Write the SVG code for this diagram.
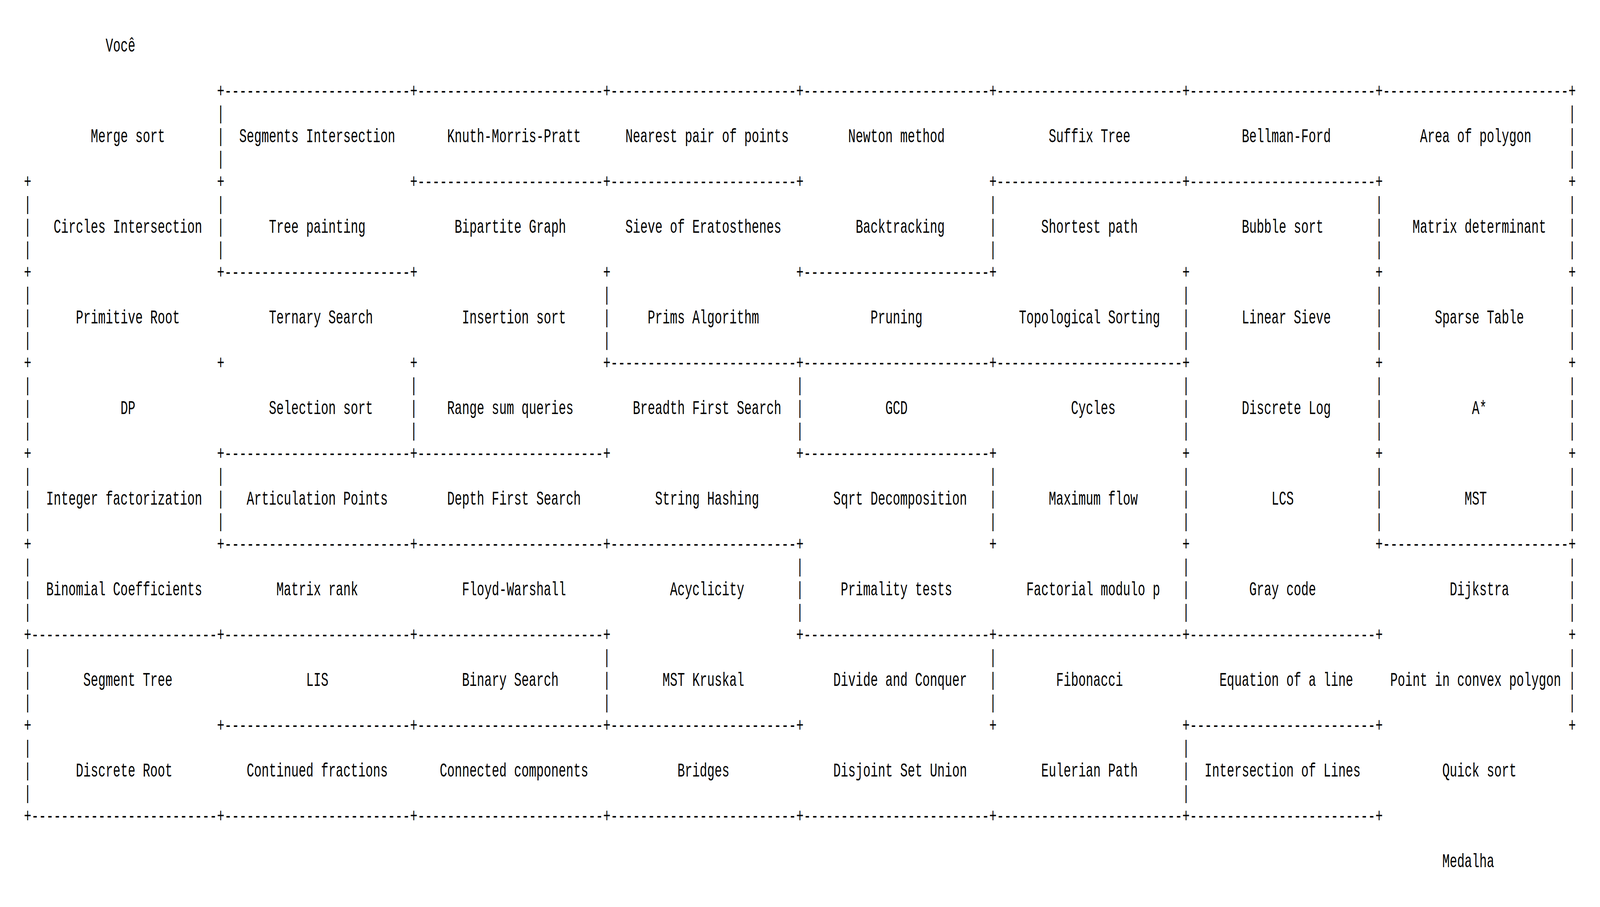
<svg xmlns="http://www.w3.org/2000/svg" width="6464" height="2322" viewBox="0 0 6464 2322" preserveAspectRatio="none">
<style>
svg { width: 100vw; height: 100vh; }
text { font-family: "Liberation Mono", "Courier New", monospace; font-size: 50px; fill: #000; }
</style>
<defs>
<text id="dash" x="0" y="0">-------------------------</text>
<text id="bar"><tspan x="0" y="0">|</tspan><tspan x="0" y="58">|</tspan><tspan x="0" y="116">|</tspan></text>
</defs>
<rect x="0" y="0" width="6464" height="2322" fill="#fff"/>
<g id="connectors">
<g id="corners">
<text x="876.7 1656.7 2436.7 3216.7 3996.7 4776.7 5556.7 6336.7" y="248">++++++++</text>
<text x="96.7 876.7 1656.7 2436.7 3216.7 3996.7 4776.7 5556.7 6336.7" y="480">+++++++++</text>
<text x="96.7 876.7 1656.7 2436.7 3216.7 3996.7 4776.7 5556.7 6336.7" y="712">+++++++++</text>
<text x="96.7 876.7 1656.7 2436.7 3216.7 3996.7 4776.7 5556.7 6336.7" y="944">+++++++++</text>
<text x="96.7 876.7 1656.7 2436.7 3216.7 3996.7 4776.7 5556.7 6336.7" y="1176">+++++++++</text>
<text x="96.7 876.7 1656.7 2436.7 3216.7 3996.7 4776.7 5556.7 6336.7" y="1408">+++++++++</text>
<text x="96.7 876.7 1656.7 2436.7 3216.7 3996.7 4776.7 5556.7 6336.7" y="1640">+++++++++</text>
<text x="96.7 876.7 1656.7 2436.7 3216.7 3996.7 4776.7 5556.7 6336.7" y="1872">+++++++++</text>
<text x="96.7 876.7 1656.7 2436.7 3216.7 3996.7 4776.7 5556.7" y="2104">++++++++</text>
</g>
<g id="horizontal-walls">
<use href="#dash" x="906.7" y="248"/><use href="#dash" x="1686.7" y="248"/><use href="#dash" x="2466.7" y="248"/><use href="#dash" x="3246.7" y="248"/><use href="#dash" x="4026.7" y="248"/><use href="#dash" x="4806.7" y="248"/><use href="#dash" x="5586.7" y="248"/>
<use href="#dash" x="1686.7" y="480"/><use href="#dash" x="2466.7" y="480"/><use href="#dash" x="4026.7" y="480"/><use href="#dash" x="4806.7" y="480"/>
<use href="#dash" x="906.7" y="712"/><use href="#dash" x="3246.7" y="712"/>
<use href="#dash" x="2466.7" y="944"/><use href="#dash" x="3246.7" y="944"/><use href="#dash" x="4026.7" y="944"/>
<use href="#dash" x="906.7" y="1176"/><use href="#dash" x="1686.7" y="1176"/><use href="#dash" x="3246.7" y="1176"/>
<use href="#dash" x="906.7" y="1408"/><use href="#dash" x="1686.7" y="1408"/><use href="#dash" x="2466.7" y="1408"/><use href="#dash" x="5586.7" y="1408"/>
<use href="#dash" x="126.7" y="1640"/><use href="#dash" x="906.7" y="1640"/><use href="#dash" x="1686.7" y="1640"/><use href="#dash" x="3246.7" y="1640"/><use href="#dash" x="4026.7" y="1640"/><use href="#dash" x="4806.7" y="1640"/>
<use href="#dash" x="906.7" y="1872"/><use href="#dash" x="1686.7" y="1872"/><use href="#dash" x="2466.7" y="1872"/><use href="#dash" x="4806.7" y="1872"/>
<use href="#dash" x="126.7" y="2104"/><use href="#dash" x="906.7" y="2104"/><use href="#dash" x="1686.7" y="2104"/><use href="#dash" x="2466.7" y="2104"/><use href="#dash" x="3246.7" y="2104"/><use href="#dash" x="4026.7" y="2104"/><use href="#dash" x="4806.7" y="2104"/>
</g>
<g id="vertical-walls">
<use href="#bar" x="876.7" y="306"/><use href="#bar" x="6336.7" y="306"/>
<use href="#bar" x="96.7" y="538"/><use href="#bar" x="876.7" y="538"/><use href="#bar" x="3996.7" y="538"/><use href="#bar" x="5556.7" y="538"/><use href="#bar" x="6336.7" y="538"/>
<use href="#bar" x="96.7" y="770"/><use href="#bar" x="2436.7" y="770"/><use href="#bar" x="4776.7" y="770"/><use href="#bar" x="5556.7" y="770"/><use href="#bar" x="6336.7" y="770"/>
<use href="#bar" x="96.7" y="1002"/><use href="#bar" x="1656.7" y="1002"/><use href="#bar" x="3216.7" y="1002"/><use href="#bar" x="4776.7" y="1002"/><use href="#bar" x="5556.7" y="1002"/><use href="#bar" x="6336.7" y="1002"/>
<use href="#bar" x="96.7" y="1234"/><use href="#bar" x="876.7" y="1234"/><use href="#bar" x="3996.7" y="1234"/><use href="#bar" x="4776.7" y="1234"/><use href="#bar" x="5556.7" y="1234"/><use href="#bar" x="6336.7" y="1234"/>
<use href="#bar" x="96.7" y="1466"/><use href="#bar" x="3216.7" y="1466"/><use href="#bar" x="4776.7" y="1466"/><use href="#bar" x="6336.7" y="1466"/>
<use href="#bar" x="96.7" y="1698"/><use href="#bar" x="2436.7" y="1698"/><use href="#bar" x="3996.7" y="1698"/><use href="#bar" x="6336.7" y="1698"/>
<use href="#bar" x="96.7" y="1930"/><use href="#bar" x="4776.7" y="1930"/>
</g>
</g>
<g id="nodes">
<g id="start"><text x="426.7" y="132">Você</text></g>
<g id="finish"><text x="5826.7" y="2220">Medalha</text></g>
<g id="n-0-0"><text x="366.7" y="364">Merge sort</text></g>
<g id="n-0-1"><text x="966.7" y="364">Segments Intersection</text></g>
<g id="n-0-2"><text x="1806.7" y="364">Knuth-Morris-Pratt</text></g>
<g id="n-0-3"><text x="2526.7" y="364">Nearest pair of points</text></g>
<g id="n-0-4"><text x="3426.7" y="364">Newton method</text></g>
<g id="n-0-5"><text x="4236.7" y="364">Suffix Tree</text></g>
<g id="n-0-6"><text x="5016.7" y="364">Bellman-Ford</text></g>
<g id="n-0-7"><text x="5736.7" y="364">Area of polygon</text></g>
<g id="n-1-0"><text x="216.7" y="596">Circles Intersection</text></g>
<g id="n-1-1"><text x="1086.7" y="596">Tree painting</text></g>
<g id="n-1-2"><text x="1836.7" y="596">Bipartite Graph</text></g>
<g id="n-1-3"><text x="2526.7" y="596">Sieve of Eratosthenes</text></g>
<g id="n-1-4"><text x="3456.7" y="596">Backtracking</text></g>
<g id="n-1-5"><text x="4206.7" y="596">Shortest path</text></g>
<g id="n-1-6"><text x="5016.7" y="596">Bubble sort</text></g>
<g id="n-1-7"><text x="5706.7" y="596">Matrix determinant</text></g>
<g id="n-2-0"><text x="306.7" y="828">Primitive Root</text></g>
<g id="n-2-1"><text x="1086.7" y="828">Ternary Search</text></g>
<g id="n-2-2"><text x="1866.7" y="828">Insertion sort</text></g>
<g id="n-2-3"><text x="2616.7" y="828">Prims Algorithm</text></g>
<g id="n-2-4"><text x="3516.7" y="828">Pruning</text></g>
<g id="n-2-5"><text x="4116.7" y="828">Topological Sorting</text></g>
<g id="n-2-6"><text x="5016.7" y="828">Linear Sieve</text></g>
<g id="n-2-7"><text x="5796.7" y="828">Sparse Table</text></g>
<g id="n-3-0"><text x="486.7" y="1060">DP</text></g>
<g id="n-3-1"><text x="1086.7" y="1060">Selection sort</text></g>
<g id="n-3-2"><text x="1806.7" y="1060">Range sum queries</text></g>
<g id="n-3-3"><text x="2556.7" y="1060">Breadth First Search</text></g>
<g id="n-3-4"><text x="3576.7" y="1060">GCD</text></g>
<g id="n-3-5"><text x="4326.7" y="1060">Cycles</text></g>
<g id="n-3-6"><text x="5016.7" y="1060">Discrete Log</text></g>
<g id="n-3-7"><text x="5946.7" y="1060">A*</text></g>
<g id="n-4-0"><text x="186.7" y="1292">Integer factorization</text></g>
<g id="n-4-1"><text x="996.7" y="1292">Articulation Points</text></g>
<g id="n-4-2"><text x="1806.7" y="1292">Depth First Search</text></g>
<g id="n-4-3"><text x="2646.7" y="1292">String Hashing</text></g>
<g id="n-4-4"><text x="3366.7" y="1292">Sqrt Decomposition</text></g>
<g id="n-4-5"><text x="4236.7" y="1292">Maximum flow</text></g>
<g id="n-4-6"><text x="5136.7" y="1292">LCS</text></g>
<g id="n-4-7"><text x="5916.7" y="1292">MST</text></g>
<g id="n-5-0"><text x="186.7" y="1524">Binomial Coefficients</text></g>
<g id="n-5-1"><text x="1116.7" y="1524">Matrix rank</text></g>
<g id="n-5-2"><text x="1866.7" y="1524">Floyd-Warshall</text></g>
<g id="n-5-3"><text x="2706.7" y="1524">Acyclicity</text></g>
<g id="n-5-4"><text x="3396.7" y="1524">Primality tests</text></g>
<g id="n-5-5"><text x="4146.7" y="1524">Factorial modulo p</text></g>
<g id="n-5-6"><text x="5046.7" y="1524">Gray code</text></g>
<g id="n-5-7"><text x="5856.7" y="1524">Dijkstra</text></g>
<g id="n-6-0"><text x="336.7" y="1756">Segment Tree</text></g>
<g id="n-6-1"><text x="1236.7" y="1756">LIS</text></g>
<g id="n-6-2"><text x="1866.7" y="1756">Binary Search</text></g>
<g id="n-6-3"><text x="2676.7" y="1756">MST Kruskal</text></g>
<g id="n-6-4"><text x="3366.7" y="1756">Divide and Conquer</text></g>
<g id="n-6-5"><text x="4266.7" y="1756">Fibonacci</text></g>
<g id="n-6-6"><text x="4926.7" y="1756">Equation of a line</text></g>
<g id="n-6-7"><text x="5616.7" y="1756">Point in convex polygon</text></g>
<g id="n-7-0"><text x="306.7" y="1988">Discrete Root</text></g>
<g id="n-7-1"><text x="996.7" y="1988">Continued fractions</text></g>
<g id="n-7-2"><text x="1776.7" y="1988">Connected components</text></g>
<g id="n-7-3"><text x="2736.7" y="1988">Bridges</text></g>
<g id="n-7-4"><text x="3366.7" y="1988">Disjoint Set Union</text></g>
<g id="n-7-5"><text x="4206.7" y="1988">Eulerian Path</text></g>
<g id="n-7-6"><text x="4866.7" y="1988">Intersection of Lines</text></g>
<g id="n-7-7"><text x="5826.7" y="1988">Quick sort</text></g>
</g>
</svg>
